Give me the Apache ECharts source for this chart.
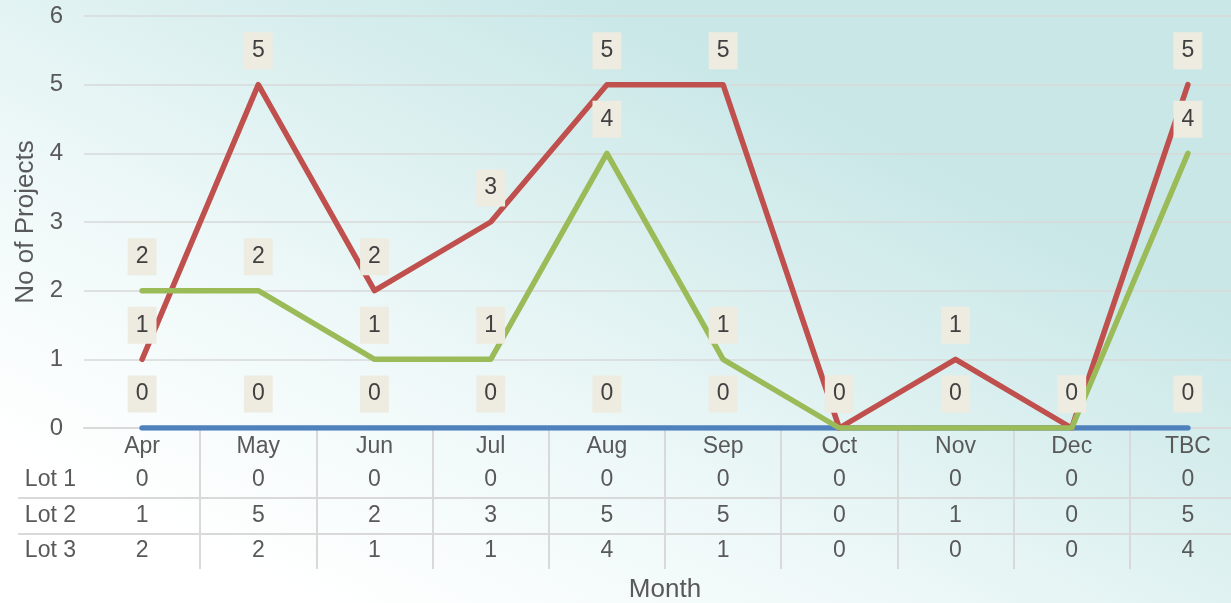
<!DOCTYPE html>
<html>
<head>
<meta charset="utf-8">
<script src="https://cdn.jsdelivr.net/npm/echarts@6/dist/echarts.min.js"></script>
<style>
  html, body { margin: 0; padding: 0; }
  #main { width: 1231px; height: 603px; }
</style>
</head>
<body>
<div id="main"></div>
<script>
const months = ['Apr', 'May', 'Jun', 'Jul', 'Aug', 'Sep', 'Oct', 'Nov', 'Dec', 'TBC'];
const lot1 = [0, 0, 0, 0, 0, 0, 0, 0, 0, 0];
const lot2 = [1, 5, 2, 3, 5, 5, 0, 1, 0, 5];
const lot3 = [2, 2, 1, 1, 4, 1, 0, 0, 0, 4];
const rowNames = ['Lot 1', 'Lot 2', 'Lot 3'];
const rows = [lot1, lot2, lot3];
const colors = ['#4f81bd', '#c0504d', '#9bbb59'];

const textColor = '#595959';
const ruleColor = '#d9d9d9';
const font = 'Liberation Sans, Arial, sans-serif';

const chart = echarts.init(document.getElementById('main'));

// table rows are extra x axes whose labels read the values
const rowOffsets = [52, 88, 123];
const tableAxes = rows.map((arr, k) => ({
  type: 'category',
  gridIndex: 0,
  position: 'bottom',
  offset: rowOffsets[k],
  data: months,
  boundaryGap: true,
  name: rowNames[k],
  nameLocation: 'start',
  nameGap: 8,
  nameTextStyle: { color: textColor, fontSize: 23, fontFamily: font, verticalAlign: 'middle' },
  axisLine: { show: false },
  axisTick: { show: false },
  axisLabel: {
    interval: 0,
    margin: 0,
    verticalAlign: 'middle',
    color: textColor,
    fontSize: 23,
    fontFamily: font,
    formatter: (v, i) => String(arr[i])
  }
}));

function lineSeries(name, data, color, z) {
  return {
    name: name,
    type: 'line',
    data: data,
    z: z,
    symbol: 'circle',
    symbolSize: 1,
    showSymbol: true,
    showAllSymbol: true,
    itemStyle: { color: color },
    lineStyle: { color: color, width: 5.5, cap: 'round', join: 'round' },
    label: {
      show: true,
      position: 'top',
      distance: 15,
      backgroundColor: '#eeebe1',
      padding: [7, 8],
      color: '#404040',
      fontSize: 23,
      lineHeight: 23,
      fontFamily: font
    },
    emphasis: { disabled: true }
  };
}

const option = {
  animation: false,
  backgroundColor: {
    type: 'linear', x: 0.25, y: 1, x2: 0.5, y2: 0,
    colorStops: [
      { offset: 0, color: '#ffffff' },
      { offset: 0.4, color: '#eef8f8' },
      { offset: 1, color: '#c9e7e7' }
    ]
  },
  textStyle: { fontFamily: font },
  grid: { left: 84, right: -15, top: 16, bottom: 175, containLabel: false, outerBoundsMode: 'none' },
  xAxis: [{
    type: 'category',
    data: months,
    boundaryGap: true,
    name: 'Month',
    nameLocation: 'middle',
    nameGap: 149,
    nameTextStyle: { color: textColor, fontSize: 26, fontFamily: font },
    axisLine: { show: true, lineStyle: { color: ruleColor, width: 2 } },
    axisTick: {
      show: true,
      length: 141,
      interval: (i) => i > 0,
      lineStyle: { color: ruleColor, width: 2 }
    },
    axisLabel: {
      interval: 0,
      margin: 7,
      color: textColor,
      fontSize: 23,
      fontFamily: font
    }
  }].concat(tableAxes),
  yAxis: {
    type: 'value',
    min: 0,
    max: 6,
    interval: 1,
    name: 'No of Projects',
    nameLocation: 'middle',
    nameGap: 45,
    nameTextStyle: { color: textColor, fontSize: 26, fontFamily: font },
    axisLine: { show: false },
    axisTick: { show: false },
    axisLabel: { color: textColor, fontSize: 24, margin: 21, fontFamily: font },
    splitLine: { lineStyle: { color: ruleColor, width: 1.5 } }
  },
  graphic: [
    { type: 'line', shape: { x1: 18, y1: 498, x2: 1231, y2: 498 }, style: { stroke: ruleColor, lineWidth: 2 } },
    { type: 'line', shape: { x1: 18, y1: 534, x2: 1231, y2: 534 }, style: { stroke: ruleColor, lineWidth: 2 } }
  ],
  series: [
    lineSeries('Lot 1', lot1, colors[0], 2),
    lineSeries('Lot 2', lot2, colors[1], 3),
    lineSeries('Lot 3', lot3, colors[2], 4)
  ]
};

chart.setOption(option);
</script>
</body>
</html>
